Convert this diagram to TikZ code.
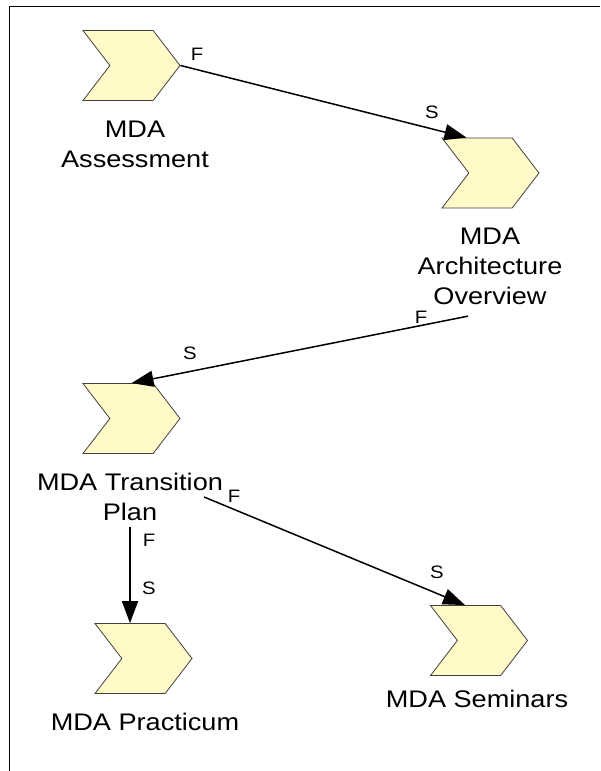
\documentclass[tikz,border=0pt]{standalone}
\usepackage{fontspec}
\setmainfont{Liberation Sans}[FakeStretch=1.13]
\usetikzlibrary{shapes.symbols,arrows.meta}
\definecolor{chevfill}{RGB}{255,250,200}

\begin{document}
\begin{tikzpicture}[x=1pt,y=-1pt]
            \tikzstyle{task}=[shape=signal,signal from=west,signal to=east,signal pointer angle=105,draw=black!75,fill=chevfill,line width=0.8pt,minimum width=97pt,minimum height=70pt,inner sep=0pt]
            \tikzstyle{caption}=[align=center,inner sep=0pt,anchor=north,font=\fontsize{24}{30}\selectfont]
            \tikzstyle{flag}=[inner sep=0pt,font=\fontsize{18}{18}\selectfont]
            \tikzstyle{link}=[line width=1.5pt,-{Triangle[length=22pt,width=16pt]}]
    \useasboundingbox (0,0) rectangle (600,771);
    \draw[line width=1.5pt] (9.5,771) -- (9.5,6.5) -- (600,6.5);
    % the five tasks
    \node[task] (assess) at (131.5,65.5) {};
    \node[task] (arch) at (490.5,173) {};
    \node[task] (trans) at (131.5,418.5) {};
    \node[task] (pract) at (143.5,658.5) {};
    \node[task] (semi) at (479,640.5) {};
    \node[caption] (assesslbl) at (135,121) {MDA\\Assessment};
    \node[caption] (archlbl) at (490,228) {MDA\\Architecture\\Overview};
    \node[caption] (translbl) at (130,473) {MDA Transition\\Plan};
    \node[caption] (practlbl) at (145,713) {MDA Practicum};
    \node[caption] (semilbl) at (477,690) {MDA Seminars};
    % finish-to-start links
    \draw[link] (assess.east) -- ([xshift=-24pt]arch.north);
    \draw[link] ([xshift=-22pt,yshift=-11pt]archlbl.south) -- (trans.north);
    \draw[link] ([xshift=-19pt]translbl.east) -- ([xshift=-14pt]semi.north);
    \draw[link] ([yshift=-6pt]translbl.south) -- ([xshift=-13.5pt]pract.north);
    \node[flag] (f1) at (197,54) {F};
    \node[flag] (s1) at (432,112) {S};
    \node[flag] (f2) at (421,317) {F};
    \node[flag] (s2) at (190,353) {S};
    \node[flag] (f3) at (234,496) {F};
    \node[flag] (s3) at (437,572) {S};
    \node[flag] (f4) at (149,540) {F};
    \node[flag] (s4) at (149,588) {S};
\end{tikzpicture}
\end{document}
